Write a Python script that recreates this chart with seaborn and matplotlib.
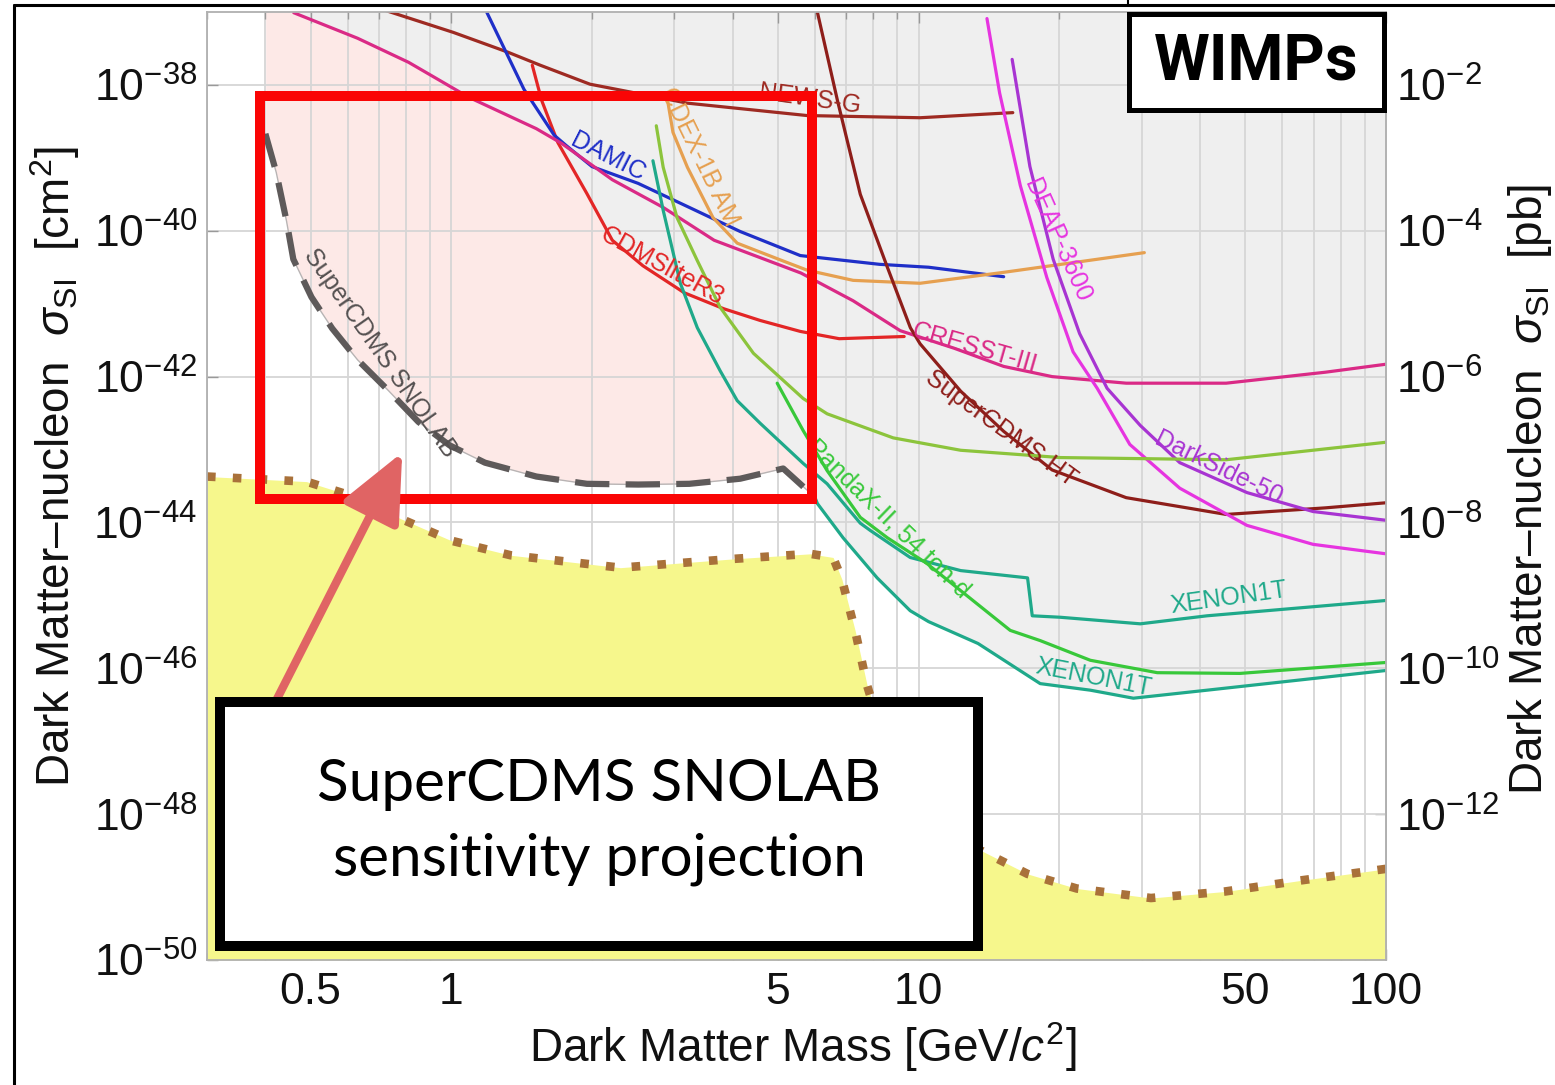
import numpy as np
import pandas as pd
import matplotlib
matplotlib.use("Agg")
import matplotlib.pyplot as plt
import seaborn as sns
from matplotlib.patches import Rectangle
from matplotlib.lines import Line2D
from matplotlib.ticker import FixedLocator, NullLocator, FixedFormatter, NullFormatter

# ---------------- data: mass [GeV/c^2], log10(sigma_SI / cm^2) ----------------
newsg_m = [0.70, 1.01, 1.32, 1.55, 1.98, 2.34, 3.20, 5.77, 10.07, 15.9]
newsg_e = [-36.95, -37.28, -37.55, -37.73, -37.99, -38.08, -38.25, -38.42, -38.45, -38.38]

cdmslite_m = [1.49, 1.56, 1.69, 1.95, 2.21, 2.57, 3.15, 3.83, 4.58, 5.58, 6.76, 9.31]
cdmslite_e = [-37.73, -38.21, -38.79, -39.49, -40.13, -40.48, -40.85, -41.07, -41.23, -41.38, -41.48, -41.45]

damic_m = [1.19, 1.43, 1.66, 1.76, 2.0, 2.51, 3.23, 4.15, 5.58, 8.24, 10.5, 15.2]
damic_e = [-37.0, -38.06, -38.69, -38.83, -39.12, -39.35, -39.68, -40.01, -40.34, -40.46, -40.50, -40.63]

cresst_m = [0.46, 0.63, 0.81, 1.09, 1.52, 1.72, 2.21, 2.84, 3.65, 5.6, 7.24, 9.13, 11.9, 15.2, 19.3, 27.8, 45.5, 74.1, 100]
cresst_e = [-37.01, -37.36, -37.69, -38.17, -38.60, -38.80, -39.30, -39.68, -40.13, -40.58, -40.96, -41.37,
            -41.61, -41.86, -42.00, -42.09, -42.09, -41.94, -41.83]

cdex_m = [2.90, 2.98, 3.20, 3.63, 4.09, 5.06, 5.77, 7.24, 10.07, 15.2, 21.8, 30.4]
cdex_e = [-38.20, -38.65, -39.13, -39.82, -40.17, -40.40, -40.54, -40.68, -40.72, -40.57, -40.43, -40.30]

hv_m = [6.07, 6.70, 7.50, 8.57, 9.6, 10.07, 12.3, 15.2, 19.3, 27.8, 45.5, 74.1, 100]
hv_e = [-37.0, -38.21, -39.5, -40.5, -41.33, -41.55, -42.2, -42.75, -43.28, -43.66, -43.89, -43.80, -43.73]

deap_m = [14.0, 14.9, 16.5, 18.8, 21.4, 24.1, 28.3, 36.2, 50.4, 69.8, 100]
deap_e = [-37.09, -38.11, -39.38, -40.64, -41.66, -42.16, -42.93, -43.53, -44.04, -44.30, -44.43]

ds50_m = [15.85, 17.3, 19.4, 22.1, 25.3, 29.8, 36.2, 50.4, 69.8, 100]
ds50_e = [-37.65, -39.12, -40.39, -41.41, -42.16, -42.67, -43.18, -43.59, -43.85, -43.97]

lux_m = [2.745, 2.84, 3.04, 3.36, 3.76, 4.43, 5.66, 6.37, 8.82, 12.3, 20.1, 45.5, 100]
lux_e = [-38.56, -39.13, -39.82, -40.41, -41.05, -41.68, -42.30, -42.51, -42.84, -43.01, -43.11, -43.14, -42.90]

xe_s2_m = [2.70, 2.84, 3.09, 3.36, 3.76, 4.09, 4.58, 5.66, 6.37, 7.50, 7.88, 9.59, 12.3, 17.1, 17.5, 20.1, 29.8, 41.4, 100]
xe_s2_e = [-39.04, -39.72, -40.72, -41.33, -41.92, -42.33, -42.64, -43.19, -43.47, -44.01, -44.11, -44.48,
           -44.66, -44.76, -45.28, -45.30, -45.39, -45.28, -45.07]

pandax_m = [4.98, 5.66, 6.37, 7.50, 8.57, 10.4, 13.3, 15.7, 18.2, 23.3, 32.4, 48.7, 100]
pandax_e = [-42.09, -42.74, -43.29, -43.93, -44.21, -44.56, -45.11, -45.48, -45.62, -45.89, -46.06, -46.07, -45.92]

xe1t_m = [5.92, 6.07, 6.89, 8.15, 9.59, 10.5, 13.4, 18.2, 23.3, 28.8, 41.4, 100]
xe1t_e = [-43.56, -43.74, -44.21, -44.76, -45.21, -45.36, -45.66, -46.21, -46.30, -46.41, -46.30, -46.03]

snolab_m = [0.40, 0.422, 0.444, 0.459, 0.502, 0.556, 0.63, 0.733, 0.85, 0.99, 1.18, 1.52, 1.95, 2.51, 3.23, 4.15, 5.13, 5.80]
snolab_e = [-38.67, -39.20, -39.87, -40.39, -40.91, -41.34, -41.77, -42.19, -42.62, -42.94, -43.18, -43.37,
            -43.47, -43.48, -43.47, -43.40, -43.26, -43.57]

nu_m = [0.30, 0.49, 0.63, 0.78, 1.0, 1.34, 2.3, 4.0, 5.86, 6.56, 6.85, 7.31, 7.76, 9.1, 11.1, 13.7, 17.1, 21.8, 31.4, 45.3, 65.5, 100]
nu_e = [-43.37, -43.44, -43.66, -43.95, -44.25, -44.45, -44.62, -44.50, -44.43, -44.48, -44.78, -45.48, -46.24,
        -47.68, -48.30, -48.51, -48.82, -49.02, -49.15, -49.06, -48.91, -48.75]

label_text = ["NEWS-G", "DAMIC", "CDEX-1B AM", "CDMSliteR3", "CRESST-III", "SuperCDMS HT", "DEAP-3600",
              "DarkSide-50", "PandaX-II, 54 ton-d", "XENON1T", "XENON1T", "SuperCDMS SNOLAB"]
label_m = [5.86, 2.16, 3.39, 2.83, 13.2, 15.0, 19.8, 43.7, 8.61, 46.1, 23.7, 0.705]
label_e = [-38.19, -38.99, -38.98, -40.49, -41.61, -42.71, -40.13, -43.26, -43.95, -45.04, -46.13, -41.68]
label_rot = [-8, -27, -64, -29, -16, -36, -66, -26, -44, 8, -11, -55]

xtick_vals = [0.5, 1, 5, 10, 50, 100]
xtick_labels = ["0.5", "1", "5", "10", "50", "100"]
xminor_vals = [0.3, 0.4, 0.6, 0.7, 0.8, 0.9, 2, 3, 4, 6, 7, 8, 9, 20, 30, 40, 60, 70, 80, 90]
ytick_exp = [-50, -48, -46, -44, -42, -40, -38]
ytick_pb_exp = [-12, -10, -8, -6, -4, -2]

# ---------------- style ----------------
sns.set_theme(style="white")
plt.rcParams['font.family'] = ['Liberation Sans', 'DejaVu Sans']
plt.rcParams['mathtext.fontset'] = 'custom'
plt.rcParams['mathtext.rm'] = 'Liberation Sans'
plt.rcParams['mathtext.it'] = 'Liberation Sans:italic'
plt.rcParams['mathtext.bf'] = 'Liberation Sans:bold'
plt.rcParams['mathtext.sf'] = 'Liberation Sans'

W, H = 1555, 1085
fig = plt.figure(figsize=(W / 100, H / 100), dpi=100)
fig.patch.set_facecolor('white')
L, R, T, B = 207, 1386, 12, 960
ax = fig.add_axes([L / W, 1 - B / H, (R - L) / W, (B - T) / H])
ax.set_xscale('log')
ax.set_yscale('log')
ax.set_xlim(0.3, 100)
ax.set_ylim(1e-50, 1e-37)
ax.set_facecolor('white')

# ---------------- regions ----------------
limits = [(newsg_m, newsg_e, '#9e2a22'), (cdmslite_m, cdmslite_e, '#e32626'), (damic_m, damic_e, '#1f2fc8'),
          (cresst_m, cresst_e, '#da2a86'), (cdex_m, cdex_e, '#e6a050'), (hv_m, hv_e, '#8e1e1a'),
          (deap_m, deap_e, '#e634e0'), (ds50_m, ds50_e, '#a834d2'), (lux_m, lux_e, '#8cc43c'),
          (xe_s2_m, xe_s2_e, '#1fa98a'), (pandax_m, pandax_e, '#38c83a'), (xe1t_m, xe1t_e, '#1fa98a')]

lm = np.linspace(np.log10(0.3), 2.0, 4000)
env = np.full_like(lm, -37.0)
for m, e, c in limits:
    yi = np.interp(lm, np.log10(m), e, left=np.inf, right=np.inf)
    env = np.minimum(env, yi)
mgrid = 10 ** lm
ax.fill_between(mgrid, 10 ** env, 1e-37, color='#efefef', lw=0, zorder=0.2)

sn = np.interp(lm, np.log10(snolab_m), snolab_e, left=np.nan, right=np.nan)
sn_f = np.where(np.isnan(sn), -37.0, sn)
mask = (~np.isnan(sn)) & (env > sn_f)
ax.fill_between(mgrid, 10 ** sn_f, 10 ** env, where=mask, color='#fde9e7', lw=0, zorder=0.3)

nu = np.interp(lm, np.log10(nu_m), nu_e)
ax.fill_between(mgrid, 1e-50, 10 ** nu, color='#f6f78c', lw=0, zorder=1.0)

# ---------------- grid / ticks ----------------
ax.set_axisbelow(True)
ax.xaxis.set_major_locator(FixedLocator(xtick_vals))
ax.xaxis.set_major_formatter(FixedFormatter(xtick_labels))
ax.xaxis.set_minor_locator(FixedLocator(xminor_vals))
ax.xaxis.set_minor_formatter(NullFormatter())
ax.yaxis.set_major_locator(FixedLocator([10.0 ** k for k in ytick_exp]))
ax.yaxis.set_major_formatter(FixedFormatter([r'$10^{%d}$' % k for k in ytick_exp]))
ax.yaxis.set_minor_locator(NullLocator())
ax.grid(True, which='both', axis='x', color='#d6d6d6', lw=1.3)
ax.grid(True, which='major', axis='y', color='#d6d6d6', lw=1.3)
ax.tick_params(axis='x', which='major', direction='in', top=True, bottom=True, length=8, width=1,
               color='#999999', labelsize=32, pad=9, labelcolor='#111111')
ax.tick_params(axis='x', which='minor', direction='in', top=True, bottom=True, length=5, width=1,
               color='#999999')
ax.tick_params(axis='y', which='major', direction='in', left=True, right=False, length=8, width=1,
               color='#999999', labelsize=32, pad=7, labelcolor='#111111')
for s in ax.spines.values():
    s.set_color('#b0b0b0')
    s.set_linewidth(1.3)

sec = ax.secondary_yaxis('right', functions=(lambda y: y * 1e36, lambda y: y / 1e36))
sec.yaxis.set_major_locator(FixedLocator([10.0 ** k for k in ytick_pb_exp]))
sec.yaxis.set_major_formatter(FixedFormatter([r'$10^{%d}$' % k for k in ytick_pb_exp]))
sec.yaxis.set_minor_locator(NullLocator())
sec.tick_params(axis='y', which='major', direction='in', length=8, width=1, color='#999999',
                labelsize=32, pad=7, labelcolor='#111111')
sec.spines['right'].set_color('#b0b0b0')

ax.set_xlabel(r'Dark Matter Mass [GeV/$c^2$]', fontsize=33, color='#111111')
ax.xaxis.set_label_coords(0.505, -0.092)
ax.xaxis.label.set_va('center')
ax.set_ylabel(r'Dark Matter–nucleon  $\sigma_{\rm SI}$  [cm$^2$]', fontsize=33, color='#111111')
ax.yaxis.set_label_coords(-0.129, 0.521)
ax.yaxis.label.set_va('center')
sec.set_ylabel(r'Dark Matter–nucleon  $\sigma_{\rm SI}$  [pb]', fontsize=33, color='#111111', rotation=90)
sec.yaxis.set_label_coords(1.1225, 0.496, transform=ax.transAxes)
sec.yaxis.label.set_va('center')
sec.yaxis.label.set_ha('center')

# ---------------- curves ----------------
for m, e, c in limits:
    sns.lineplot(x=m, y=10.0 ** np.array(e), ax=ax, color=c, lw=2.3, sort=False, estimator=None,
                 legend=False, zorder=2)

sns.lineplot(x=snolab_m, y=10.0 ** np.array(snolab_e), ax=ax, color='#b8b4b4', lw=1.0, sort=False,
             estimator=None, legend=False, zorder=2.2)
sns.lineplot(x=snolab_m, y=10.0 ** np.array(snolab_e), ax=ax, color='#5e5a5a', lw=4.5, sort=False,
             estimator=None, legend=False, zorder=2.3)
ax.lines[-1].set_linestyle((0, (5.5, 2.6)))
ax.lines[-1].set_dash_capstyle('butt')

sns.lineplot(x=nu_m, y=10.0 ** np.array(nu_e), ax=ax, color='#a9713a', lw=6.2, sort=False,
             estimator=None, legend=False, zorder=2.5)
ax.lines[-1].set_linestyle((0, (1, 2.0)))
ax.lines[-1].set_dash_capstyle('butt')

label_colors = ['#9e2a22', '#1f2fc8', '#e6a050', '#e32626', '#da2a86', '#8e1e1a', '#e634e0', '#a834d2',
                '#38c83a', '#1fa98a', '#1fa98a', '#555151']
for t, m, e, r, c in zip(label_text, label_m, label_e, label_rot, label_colors):
    ax.text(m, 10.0 ** e, t, rotation=r, rotation_mode='anchor', ha='center', va='center',
            fontsize=18, color=c, zorder=3)

# ---------------- annotations ----------------
ax.add_patch(Rectangle((0.04495, 0.4863), 0.5131 - 0.04495, 0.9114 - 0.4863, transform=ax.transAxes,
                       fill=False, edgecolor='#fa0505', lw=7.2, zorder=4, clip_on=False))

ax.annotate('', xy=(0.785, 10 ** -43.04), xytext=(0.422, 10 ** -46.44),
            arrowprops=dict(arrowstyle='-|>,head_length=2.1,head_width=0.95', color='#e06464', lw=6,
                            mutation_scale=20, shrinkA=0, shrinkB=0), zorder=4.5)

ax.add_patch(Rectangle((0.011, 0.01477), 0.654 - 0.011, 0.2722 - 0.01477, transform=ax.transAxes,
                       facecolor='white', edgecolor='black', lw=7.2, zorder=5, clip_on=False))
ax.text((0.011 + 0.654) / 2, (0.01477 + 0.2722) / 2 + 0.002, 'SuperCDMS SNOLAB\nsensitivity projection',
        transform=ax.transAxes, ha='center', va='center', fontsize=42, family=['Lato', 'DejaVu Sans'],
        color='black', linespacing=1.5, zorder=6)

ax.add_patch(Rectangle((0.7816, 0.8966), 0.9979 - 0.7816, 0.9979 - 0.8966, transform=ax.transAxes,
                       facecolor='white', edgecolor='black', lw=3.6, zorder=5, clip_on=False))
ax.text((0.7816 + 0.9979) / 2, (0.8966 + 0.9979) / 2, 'WIMPs', transform=ax.transAxes, ha='center',
        va='center', fontsize=46, fontweight='bold', family=['Roboto', 'DejaVu Sans'], color='black', zorder=6)

# frame lines of the screenshot
fig.add_artist(Line2D([14 / W, 14 / W], [0, 1 - 5 / H], color='black', lw=2.2))
fig.add_artist(Line2D([14 / W, 1], [1 - 5 / H, 1 - 5 / H], color='black', lw=2.2))
fig.add_artist(Line2D([1128 / W, 1128 / W], [1 - 5 / H, 1], color='black', lw=1.5))

fig.savefig('out.png', dpi=100)
